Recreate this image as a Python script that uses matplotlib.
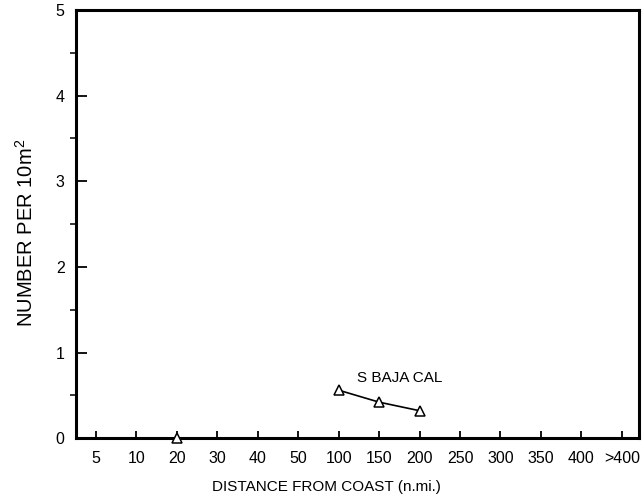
import matplotlib
matplotlib.use("Agg")
import matplotlib.pyplot as plt
import numpy as np

plt.rcParams['font.family'] = ['Liberation Sans', 'DejaVu Sans']
plt.rcParams['mathtext.fontset'] = 'custom'
plt.rcParams['mathtext.rm'] = 'Liberation Sans'

# categories along the x axis (evenly spaced)
distance_labels = ['5', '10', '20', '30', '40', '50', '100', '150', '200',
                   '250', '300', '350', '400', '>400']

# S Baja Cal series
baja_dist = ['100', '150', '200']
baja_vals = [0.56, 0.42, 0.32]

# isolated zero point
zero_dist = ['20']
zero_vals = [0.0]

pos = {lab: i for i, lab in enumerate(distance_labels)}

fig = plt.figure(figsize=(6.42, 5.03), dpi=100)
ax = fig.add_axes([0.118, 0.129, 0.877, 0.851])

bx = [pos[d] for d in baja_dist]
ax.plot(bx, baja_vals, color='black', lw=1.2, marker='^', markersize=7,
        markerfacecolor='white', markeredgecolor='black', markeredgewidth=1.1,
        clip_on=False, zorder=3)
zx = [pos[d] for d in zero_dist]
ax.plot(zx, zero_vals, ls='none', marker='^', markersize=7,
        markerfacecolor='white', markeredgecolor='black', markeredgewidth=1.1,
        clip_on=False, zorder=4)

ax.text(7.5, 0.70, 'S BAJA CAL', fontsize=11, ha='center', va='center')

ax.set_xlim(-0.5, 13.42)
ax.set_ylim(0, 5)
ax.set_xticks(range(len(distance_labels)))
ax.set_xticklabels(distance_labels)
ax.set_yticks(np.arange(0, 6, 1))
ax.set_yticks(np.arange(0.5, 5, 1), minor=True)

for s in ax.spines.values():
    s.set_linewidth(2.2)

ax.tick_params(axis='both', direction='in', labelsize=11.5, width=1.3)
ax.tick_params(axis='y', which='major', length=8, pad=8)
ax.tick_params(axis='y', which='minor', length=4, width=1.1)
ax.tick_params(axis='x', length=5, pad=9)

ax.set_xlabel('DISTANCE FROM COAST (n.mi.)', fontsize=11, labelpad=10)
ax.xaxis.set_label_coords(0.445, -0.098)
ax.set_ylabel(r'NUMBER PER 10m$^\mathrm{2}$', fontsize=14.5)
ax.yaxis.set_label_coords(-0.07, 0.48)

fig.savefig('out.png', dpi=100)
